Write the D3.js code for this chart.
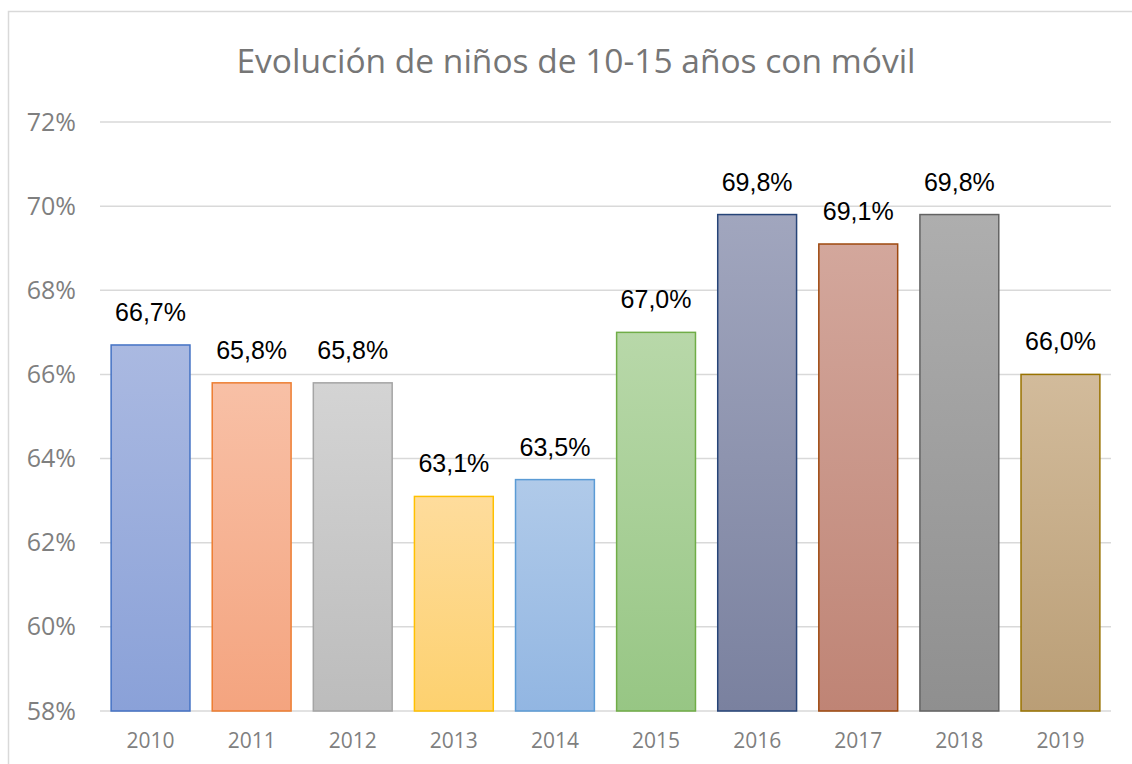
<!DOCTYPE html>
<html>
<head>
<meta charset="utf-8">
<script src="https://cdn.jsdelivr.net/npm/d3@7"></script>
<style>
  body { margin: 0; background: #fff; }
</style>
</head>
<body>
<div id="chart"></div>
<script>
// data
const years = ["2010", "2011", "2012", "2013", "2014", "2015", "2016", "2017", "2018", "2019"];
const values = [66.7, 65.8, 65.8, 63.1, 63.5, 67.0, 69.8, 69.1, 69.8, 66.0];
const yTicks = [58, 60, 62, 64, 66, 68, 70, 72];

// per-bar colours: [top of gradient, bottom of gradient, outline]
const barColors = [
  ["#aab9e1", "#8aa1d8", "#4472c4"],
  ["#f8c0a6", "#f4a47f", "#ed7d31"],
  ["#d4d4d4", "#bcbcbc", "#a5a5a5"],
  ["#fedc9c", "#fdd16f", "#ffc000"],
  ["#b0cae9", "#92b6e2", "#5b9bd5"],
  ["#b8d8a9", "#97c684", "#70ad47"],
  ["#a1a6be", "#7a819f", "#264478"],
  ["#d3a79c", "#bf8475", "#9e480e"],
  ["#aeaeae", "#8f8f8f", "#636363"],
  ["#d2bb9b", "#ba9e76", "#997300"]
];

const W = 1132, H = 764;
const margin = { top: 122, right: 21, bottom: 53, left: 100 };
const width = W - margin.left - margin.right,
  height = H - margin.top - margin.bottom;

const root = d3.select("#chart")
  .append("svg")
  .attr("width", W)
  .attr("height", H);

// outer chart frame
root.append("rect")
  .attr("x", 8.5)
  .attr("y", 11.5)
  .attr("width", W + 20)
  .attr("height", H + 20)
  .attr("fill", "none")
  .attr("stroke", "#d9d9d9")
  .attr("stroke-width", 1.5);

// gradients
const defs = root.append("defs");
barColors.forEach(function (c, i) {
  const g = defs.append("linearGradient")
    .attr("id", "grad" + i)
    .attr("x1", 0).attr("y1", 0).attr("x2", 0).attr("y2", 1);
  g.append("stop").attr("offset", "0%").attr("stop-color", c[0]);
  g.append("stop").attr("offset", "100%").attr("stop-color", c[1]);
});

const svg = root.append("g")
  .attr("transform", `translate(${margin.left}, ${margin.top})`);

const x = d3.scaleBand().domain(years).range([0, width]).paddingInner(0.22).paddingOuter(0.11);
const y = d3.scaleLinear().domain([58, 72]).range([height, 0]);

// gridlines
svg.append("g")
  .selectAll("line")
  .data(yTicks)
  .join("line")
  .attr("x1", 0)
  .attr("x2", width)
  .attr("y1", d => y(d))
  .attr("y2", d => y(d))
  .attr("stroke", "#d9d9d9")
  .attr("stroke-width", 1.5);

// Y axis labels
const yAxis = svg.append("g")
  .call(d3.axisLeft(y).tickValues(yTicks).tickFormat(d => d + "%").tickSize(0).tickPadding(24));
yAxis.select(".domain").remove();
yAxis.selectAll("text")
  .attr("fill", "#7f7f7f")
  .style("font-family", "'Open Sans', sans-serif")
  .style("font-size", "25px");

// X axis labels
const xAxis = svg.append("g")
  .attr("transform", `translate(0, ${height})`)
  .call(d3.axisBottom(x).tickSize(0).tickPadding(22));
xAxis.select(".domain").remove();
xAxis.selectAll("text")
  .attr("fill", "#7f7f7f")
  .style("font-family", "'Open Sans', sans-serif")
  .style("font-size", "21px");

// bars
svg.selectAll(".bar")
  .data(values)
  .join("rect")
  .attr("class", "bar")
  .attr("x", (d, i) => x(years[i]))
  .attr("y", d => y(d))
  .attr("width", x.bandwidth())
  .attr("height", d => height - y(d))
  .attr("fill", (d, i) => "url(#grad" + i + ")")
  .attr("stroke", (d, i) => barColors[i][2])
  .attr("stroke-width", 1.5);

// value labels
svg.selectAll(".lbl")
  .data(values)
  .join("text")
  .attr("class", "lbl")
  .attr("x", (d, i) => x(years[i]) + x.bandwidth() / 2)
  .attr("y", d => y(d) - 24)
  .attr("text-anchor", "middle")
  .style("font-family", "'Liberation Sans', Arial, sans-serif")
  .style("font-size", "25px")
  .attr("fill", "#000")
  .text(d => d.toFixed(1).replace(".", ",") + "%");

// title
root.append("text")
  .attr("x", 576)
  .attr("y", 73)
  .attr("text-anchor", "middle")
  .style("font-family", "'Open Sans', sans-serif")
  .style("font-size", "33.5px")
  .attr("fill", "#767676")
  .text("Evolución de niños de 10-15 años con móvil");
</script>
</body>
</html>
